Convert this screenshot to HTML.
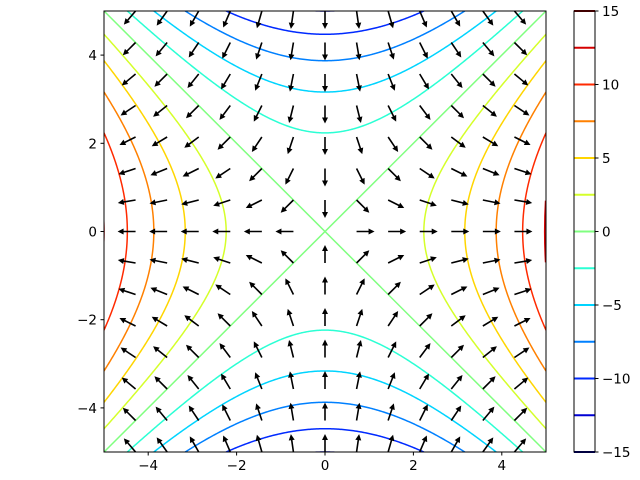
<!DOCTYPE html>
<html><head><meta charset="utf-8"><style>
html,body{margin:0;padding:0;background:#fff;overflow:hidden;width:640px;height:480px;}
svg{display:block;}
svg text{font-family:"DejaVu Sans","Liberation Sans",sans-serif;font-size:13.5px;fill:#000;}
</style></head><body>
<svg id="chart" width="640" height="480" xmlns="http://www.w3.org/2000/svg">
<defs><clipPath id="clip"><rect x="104" y="11" width="442" height="441"/></clipPath></defs>
<rect x="0" y="0" width="640" height="480" fill="#fff"/>
<g id="contours" clip-path="url(#clip)"></g>
<g id="arrows" clip-path="url(#clip)"></g>
<rect x="104" y="11" width="442" height="441" fill="none" stroke="#000" stroke-width="1"/>
<g id="axes"></g>
<g id="cbar"></g>
</svg>
<script>
const levels=[-15,-12.5,-10,-7.5,-5,-2.5,0,2.5,5,7.5,10,12.5,15];
const xTicks=[-4,-2,0,2,4];
const yTicks=[-4,-2,0,2,4];
const cbarTicks=[-15,-10,-5,0,5,10,15];
const gridN=15;
const domain=[-5,5];
const NS="http://www.w3.org/2000/svg";
const X0=104,X1=546,Y0=11,Y1=452;
const sx=v=>X0+(v-domain[0])/(domain[1]-domain[0])*(X1-X0);
const sy=v=>Y1-(v-domain[0])/(domain[1]-domain[0])*(Y1-Y0);
function jet(t){
  const c=v=>Math.max(0,Math.min(1,v));
  const r=c(1.5-Math.abs(4*t-3)),g=c(1.5-Math.abs(4*t-2)),b=c(1.5-Math.abs(4*t-1));
  return `rgb(${Math.round(r*255)},${Math.round(g*255)},${Math.round(b*255)})`;
}
const lmin=levels[0],lmax=levels[levels.length-1];
const col=l=>jet((l-lmin)/(lmax-lmin));
function el(tag,attrs,parent){const e=document.createElementNS(NS,tag);for(const k in attrs)e.setAttribute(k,attrs[k]);parent.appendChild(e);return e;}
const cg=document.getElementById('contours');
const lim=5.1;
levels.forEach(l=>{
  const k=2*l;
  const paths=[];
  if(l===0){
    paths.push(`M${sx(-5)},${sy(-5)}L${sx(5)},${sy(5)}`);
    paths.push(`M${sx(-5)},${sy(5)}L${sx(5)},${sy(-5)}`);
  } else {
    [1,-1].forEach(s=>{
      let d='';
      for(let i=0;i<=400;i++){
        const t=-5+10*i/400;
        let x,y;
        if(k>0){y=t;x=s*Math.sqrt(k+t*t);}else{x=t;y=s*Math.sqrt(-k+t*t);}
        if(Math.abs(x)>lim||Math.abs(y)>lim)continue;
        d+=(d?'L':'M')+sx(x).toFixed(2)+','+sy(y).toFixed(2);
      }
      if(d)paths.push(d);
    });
  }
  paths.forEach(d=>{
    const p=el('path',{d:d,fill:'none',stroke:col(l),'stroke-width':1.5},cg);
    
    
  });
});
{
  const p=el('path',{d:`M${sx(4.99)},${sy(0.7)}Q${sx(4.95)},${sy(0)} ${sx(4.99)},${sy(-0.7)}`,fill:'none',stroke:col(12.5),'stroke-width':1.5},cg);
  
  
}
const ag=document.getElementById('arrows');
const L=18;
for(let i=0;i<gridN;i++)for(let j=0;j<gridN;j++){
  const x=domain[0]+(domain[1]-domain[0])*i/(gridN-1);
  const y=domain[0]+(domain[1]-domain[0])*j/(gridN-1);
  const u=x,v=-y,m=Math.hypot(u,v);
  if(m<1e-9)continue;
  const ux=u/m,uy=-v/m;
  const px=-uy,py=ux;
  const tx=sx(x),ty=sy(y);
  const hl=6,hw=3,sw=0.8;
  const bx=tx+ux*(L-hl),by=ty+uy*(L-hl);
  const hx=tx+ux*L,hy=ty+uy*L;
  const pts=[[tx+px*sw,ty+py*sw],[bx+px*sw,by+py*sw],[bx+px*hw,by+py*hw],[hx,hy],[bx-px*hw,by-py*hw],[bx-px*sw,by-py*sw],[tx-px*sw,ty-py*sw]];
  const a=el('polygon',{points:pts.map(p=>p[0].toFixed(2)+','+p[1].toFixed(2)).join(' '),fill:'#000'},ag);
  
  
}
const ax=document.getElementById('axes');
const fmt=v=>v<0?'\u2212'+Math.abs(v):''+v;
xTicks.forEach(v=>{
  el('line',{x1:sx(v),x2:sx(v),y1:Y1,y2:Y1+3.5,stroke:'#000'},ax);
  const t=el('text',{x:sx(v),y:Y1+18,'text-anchor':'middle'},ax);t.textContent=fmt(v);
  
  
});
yTicks.forEach(v=>{
  el('line',{x1:X0-3.5,x2:X0,y1:sy(v),y2:sy(v),stroke:'#000'},ax);
  const t=el('text',{x:X0-7,y:sy(v)+5,'text-anchor':'end'},ax);t.textContent=fmt(v);
  
  
});
const cb=document.getElementById('cbar');
const CX0=574,CX1=595;
const cy=v=>Y1-(v-lmin)/(lmax-lmin)*(Y1-Y0);
levels.forEach(l=>{
  const ln=el('line',{x1:CX0,x2:CX1,y1:cy(l),y2:cy(l),stroke:col(l),'stroke-width':2},cb);
  
  
});
el('rect',{x:CX0,y:Y0,width:CX1-CX0,height:Y1-Y0,fill:'none',stroke:'#000','stroke-width':1},cb);
cbarTicks.forEach(v=>{
  el('line',{x1:CX1,x2:CX1+3.5,y1:cy(v),y2:cy(v),stroke:'#000'},cb);
  const t=el('text',{x:CX1+7,y:cy(v)+5},cb);t.textContent=fmt(v);
  
  
});
</script>
</body></html>
